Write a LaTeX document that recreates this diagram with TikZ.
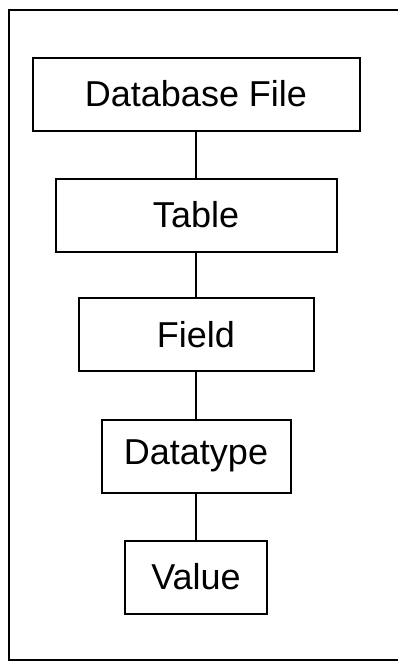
\documentclass[tikz,border=0pt]{standalone}
\usepackage{fontspec}
\setmainfont{Liberation Sans}
\begin{document}
\begin{tikzpicture}[x=1pt,y=-1pt,
  levelbox/.style={draw=black,line width=2pt,inner sep=0pt,minimum height=73pt,font=\fontsize{36}{40}\selectfont},
  link/.style={draw=black,line width=2pt}]
\useasboundingbox (0,0) rectangle (398,662);
\draw[line width=2pt] (398,10) -- (9,10) -- (9,660) -- (398,660);
\node[levelbox,minimum width=327pt] (db) at (196,94) {Database File};
\node[levelbox,minimum width=281pt] (tab) at (196,215) {Table};
\node[levelbox,minimum width=235pt] (fld) at (196,334.5) {Field};
\node[levelbox,minimum width=189pt] (dt) at (196,456) {Datatype};
\node[levelbox,minimum width=142pt] (val) at (196,577) {Value};
\draw[link] (db) -- (tab);
\draw[link] (tab) -- (fld);
\draw[link] (fld) -- (dt);
\draw[link] (dt) -- (val);
\end{tikzpicture}
\end{document}
